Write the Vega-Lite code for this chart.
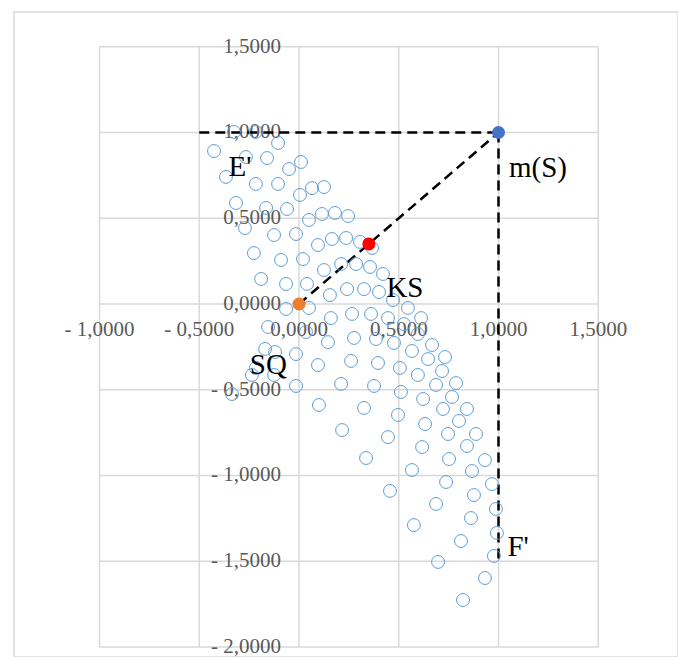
{
  "$schema": "https://vega.github.io/schema/vega-lite/v6.json",
  "width": 664,
  "height": 645,
  "padding": {"left": 14, "top": 12, "right": 0, "bottom": 0},
  "autosize": {"type": "none"},
  "background": "white",
  "config": {"view": {"stroke": "#d9d9d9", "strokeWidth": 1.5}},
  "datasets": {
    "grid": [
      {"x": -1, "y": -2, "x2": -1, "y2": 1.5},
      {"x": -0.5, "y": -2, "x2": -0.5, "y2": 1.5},
      {"x": 0, "y": -2, "x2": 0, "y2": 1.5},
      {"x": 0.5, "y": -2, "x2": 0.5, "y2": 1.5},
      {"x": 1, "y": -2, "x2": 1, "y2": 1.5},
      {"x": 1.5, "y": -2, "x2": 1.5, "y2": 1.5},
      {"x": -1, "y": -2, "x2": 1.5, "y2": -2},
      {"x": -1, "y": -1.5, "x2": 1.5, "y2": -1.5},
      {"x": -1, "y": -1, "x2": 1.5, "y2": -1},
      {"x": -1, "y": -0.5, "x2": 1.5, "y2": -0.5},
      {"x": -1, "y": 0, "x2": 1.5, "y2": 0},
      {"x": -1, "y": 0.5, "x2": 1.5, "y2": 0.5},
      {"x": -1, "y": 1, "x2": 1.5, "y2": 1},
      {"x": -1, "y": 1.5, "x2": 1.5, "y2": 1.5}
    ],
    "xticks": [
      {"x": -1, "y": 0, "t": "- 1,0000"},
      {"x": -0.5, "y": 0, "t": "- 0,5000"},
      {"x": 0, "y": 0, "t": "0,0000"},
      {"x": 0.5, "y": 0, "t": "0,5000"},
      {"x": 1, "y": 0, "t": "1,0000"},
      {"x": 1.5, "y": 0, "t": "1,5000"}
    ],
    "yticks": [
      {"x": 0, "y": -2, "t": "- 2,0000"},
      {"x": 0, "y": -1.5, "t": "- 1,5000"},
      {"x": 0, "y": -1, "t": "- 1,0000"},
      {"x": 0, "y": -0.5, "t": "- 0,5000"},
      {"x": 0, "y": 0, "t": "0,0000"},
      {"x": 0, "y": 0.5, "t": "0,5000"},
      {"x": 0, "y": 1, "t": "1,0000"},
      {"x": 0, "y": 1.5, "t": "1,5000"}
    ],
    "dash": [
      {"x": -0.5, "y": 1, "x2": 1, "y2": 1},
      {"x": 1, "y": 1, "x2": 1, "y2": -1.5},
      {"x": 0, "y": 0, "x2": 1, "y2": 1}
    ],
    "pts": [
      {"x": -0.326, "y": 1.003}, {"x": -0.216, "y": 1.003}, {"x": -0.105, "y": 0.939}, {"x": -0.426, "y": 0.892},
      {"x": -0.266, "y": 0.857}, {"x": -0.160, "y": 0.851}, {"x": 0.010, "y": 0.828}, {"x": -0.050, "y": 0.787},
      {"x": -0.366, "y": 0.741}, {"x": -0.216, "y": 0.700}, {"x": -0.105, "y": 0.700}, {"x": 0.065, "y": 0.676},
      {"x": 0.125, "y": 0.682}, {"x": 0.005, "y": 0.636}, {"x": -0.316, "y": 0.589}, {"x": -0.165, "y": 0.560},
      {"x": -0.060, "y": 0.554}, {"x": 0.115, "y": 0.525}, {"x": 0.180, "y": 0.531}, {"x": 0.246, "y": 0.513},
      {"x": 0.050, "y": 0.490}, {"x": -0.271, "y": 0.443}, {"x": -0.125, "y": 0.402}, {"x": -0.015, "y": 0.408},
      {"x": 0.165, "y": 0.379}, {"x": 0.236, "y": 0.385}, {"x": 0.306, "y": 0.362}, {"x": 0.095, "y": 0.344},
      {"x": 0.366, "y": 0.327}, {"x": -0.226, "y": 0.297}, {"x": -0.090, "y": 0.257}, {"x": 0.020, "y": 0.262},
      {"x": 0.211, "y": 0.233}, {"x": 0.286, "y": 0.233}, {"x": 0.356, "y": 0.216}, {"x": 0.125, "y": 0.198},
      {"x": 0.421, "y": 0.175}, {"x": -0.190, "y": 0.146}, {"x": -0.065, "y": 0.117}, {"x": 0.040, "y": 0.117},
      {"x": 0.241, "y": 0.087}, {"x": 0.326, "y": 0.087}, {"x": 0.401, "y": 0.070}, {"x": 0.155, "y": 0.052},
      {"x": 0.471, "y": 0.023}, {"x": -0.065, "y": -0.029}, {"x": 0.050, "y": -0.023}, {"x": 0.546, "y": -0.023},
      {"x": 0.160, "y": -0.082}, {"x": 0.266, "y": -0.058}, {"x": 0.361, "y": -0.058}, {"x": 0.446, "y": -0.082},
      {"x": 0.612, "y": -0.082}, {"x": 0.526, "y": -0.117}, {"x": -0.155, "y": -0.134}, {"x": 0.035, "y": -0.163},
      {"x": 0.276, "y": -0.198}, {"x": 0.386, "y": -0.204}, {"x": 0.476, "y": -0.227}, {"x": 0.145, "y": -0.222},
      {"x": 0.596, "y": -0.175}, {"x": 0.667, "y": -0.239}, {"x": 0.566, "y": -0.274}, {"x": -0.170, "y": -0.262},
      {"x": -0.120, "y": -0.280}, {"x": -0.015, "y": -0.292}, {"x": 0.647, "y": -0.321}, {"x": 0.732, "y": -0.309},
      {"x": 0.095, "y": -0.356}, {"x": 0.261, "y": -0.332}, {"x": 0.396, "y": -0.344}, {"x": 0.506, "y": -0.373},
      {"x": -0.216, "y": -0.373}, {"x": -0.236, "y": -0.414}, {"x": -0.125, "y": -0.414}, {"x": 0.717, "y": -0.391},
      {"x": 0.596, "y": -0.414}, {"x": -0.015, "y": -0.478}, {"x": 0.211, "y": -0.466}, {"x": 0.376, "y": -0.478},
      {"x": 0.511, "y": -0.513}, {"x": 0.687, "y": -0.472}, {"x": 0.787, "y": -0.461}, {"x": -0.336, "y": -0.525},
      {"x": 0.767, "y": -0.542}, {"x": 0.622, "y": -0.554}, {"x": 0.100, "y": -0.589}, {"x": 0.326, "y": -0.606},
      {"x": 0.496, "y": -0.647}, {"x": 0.722, "y": -0.612}, {"x": 0.842, "y": -0.612}, {"x": 0.802, "y": -0.682},
      {"x": 0.632, "y": -0.700}, {"x": 0.216, "y": -0.735}, {"x": 0.446, "y": -0.776}, {"x": 0.747, "y": -0.758},
      {"x": 0.887, "y": -0.758}, {"x": 0.617, "y": -0.834}, {"x": 0.842, "y": -0.828}, {"x": 0.336, "y": -0.898},
      {"x": 0.752, "y": -0.904}, {"x": 0.932, "y": -0.910}, {"x": 0.566, "y": -0.968}, {"x": 0.867, "y": -0.974},
      {"x": 0.737, "y": -1.038}, {"x": 0.967, "y": -1.050}, {"x": 0.456, "y": -1.090}, {"x": 0.877, "y": -1.114},
      {"x": 0.687, "y": -1.166}, {"x": 0.987, "y": -1.195}, {"x": 0.862, "y": -1.248}, {"x": 0.576, "y": -1.289},
      {"x": 0.992, "y": -1.335}, {"x": 0.812, "y": -1.382}, {"x": 0.977, "y": -1.469}, {"x": 0.697, "y": -1.504},
      {"x": 0.932, "y": -1.598}, {"x": 0.822, "y": -1.726}
    ],
    "special": [
      {"x": 1, "y": 1, "name": "m(S)"},
      {"x": 0.35, "y": 0.35, "name": "KS"},
      {"x": 0, "y": 0, "name": "SQ"}
    ],
    "ann": [
      {"x": -0.296, "y": 0.799, "t": "E'"},
      {"x": 1.198, "y": 0.793, "t": "m(S)"},
      {"x": 0.531, "y": 0.093, "t": "KS"},
      {"x": -0.154, "y": -0.356, "t": "SQ"},
      {"x": 1.098, "y": -1.417, "t": "F'"}
    ]
  },
  "encoding": {
    "x": {"field": "x", "type": "quantitative", "scale": {"domain": [-1.4286, 1.8997], "nice": false, "zero": false}, "axis": null},
    "y": {"field": "y", "type": "quantitative", "scale": {"domain": [-2.0583, 1.7026], "nice": false, "zero": false}, "axis": null}
  },
  "layer": [
    {
      "data": {"name": "grid"},
      "mark": {"type": "rule", "color": "#d9d9d9", "strokeWidth": 1.5},
      "encoding": {"x2": {"field": "x2"}, "y2": {"field": "y2"}}
    },
    {
      "data": {"name": "xticks"},
      "mark": {"type": "text", "font": "Liberation Serif", "fontSize": 21, "color": "#595959", "align": "center", "baseline": "middle", "dy": 26},
      "encoding": {"text": {"field": "t"}}
    },
    {
      "data": {"name": "yticks"},
      "mark": {"type": "text", "font": "Liberation Serif", "fontSize": 21, "color": "#595959", "align": "right", "baseline": "middle", "dx": -18},
      "encoding": {"text": {"field": "t"}}
    },
    {
      "data": {"name": "dash"},
      "mark": {"type": "rule", "color": "#000000", "strokeWidth": 2.5, "strokeDash": [10, 6]},
      "encoding": {"x2": {"field": "x2"}, "y2": {"field": "y2"}}
    },
    {
      "data": {"name": "pts"},
      "mark": {"type": "point", "shape": "circle", "filled": false, "stroke": "#5B9BD5", "strokeWidth": 1, "size": 165, "opacity": 1}
    },
    {
      "data": {"name": "special"},
      "mark": {"type": "point", "shape": "circle", "filled": true, "size": 170, "opacity": 1},
      "encoding": {
        "color": {"field": "name", "type": "nominal", "scale": {"domain": ["m(S)", "KS", "SQ"], "range": ["#4472C4", "#FF0000", "#ED7D31"]}, "legend": null}
      }
    },
    {
      "data": {"name": "ann"},
      "mark": {"type": "text", "font": "Liberation Serif", "fontSize": 29, "color": "#000000", "align": "center", "baseline": "middle"},
      "encoding": {"text": {"field": "t"}}
    }
  ]
}
